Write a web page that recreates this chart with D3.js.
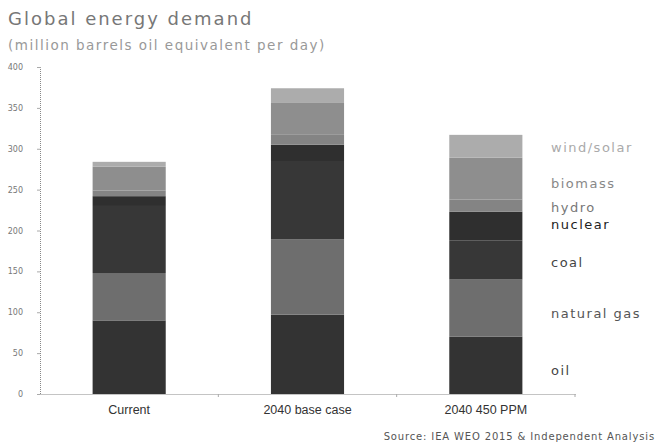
<!DOCTYPE html>
<html>
<head>
<meta charset="utf-8">
<script src="https://cdn.jsdelivr.net/npm/d3@7"></script>
<style>
  html, body { margin: 0; padding: 0; background: #fff; }
  svg { display: block; }
  text { font-family: "DejaVu Sans", "Liberation Sans", sans-serif; }
</style>
</head>
<body>
<svg id="chart" width="657" height="448"></svg>
<script>
// ---- data ----
const categories = ["Current", "2040 base case", "2040 450 PPM"];
const sources = ["oil", "natural gas", "coal", "nuclear", "hydro", "biomass", "wind/solar"];
const oil        = [90, 97, 70];
const naturalGas = [58, 92, 70];
const coal       = [82, 96, 48];
const nuclear    = [12, 20, 35];
const hydro      = [7, 12, 15];
const biomass    = [29, 39, 51];
const windSolar  = [6, 18, 28];
const yTicks = [0, 50, 100, 150, 200, 250, 300, 350, 400];
const title = "Global energy demand";
const subtitle = "(million barrels oil equivalent per day)";
const sourceNote = "Source:  IEA WEO 2015 & Independent  Analysis";

const seriesValues = [oil, naturalGas, coal, nuclear, hydro, biomass, windSolar];
const fills = ["#333333", "#6e6e6e", "#373737", "#2f2f2f", "#848484", "#8e8e8e", "#acacac"];
const labelColors = ["#444", "#555", "#444", "#222", "#777", "#888", "#aaa"];
const labelY = [29, 99, 161, 207, 228, 258, 301]; // value positions for legend labels

const rows = categories.map((c, i) => {
  const r = { category: c };
  sources.forEach((s, j) => r[s] = seriesValues[j][i]);
  return r;
});

const svg = d3.select("#chart");
const x = d3.scaleBand().domain(categories).range([40, 575]).paddingInner(0.59).paddingOuter(0.295);
const y = d3.scaleLinear().domain([0, 400]).range([394, 67]);

const stack = d3.stack().keys(sources)(rows);

// bars
svg.append("g").selectAll("g").data(stack).join("g")
  .attr("fill", (d, i) => fills[i])
  .selectAll("rect").data(d => d).join("rect")
  .attr("x", d => x(d.data.category))
  .attr("width", x.bandwidth())
  .attr("y", d => y(d[1]))
  .attr("height", d => y(d[0]) - y(d[1]));

// y axis
const yAxis = svg.append("g").attr("transform", "translate(40,0)")
  .call(d3.axisLeft(y).tickValues(yTicks).tickSize(3).tickPadding(14));
yAxis.select(".domain").attr("stroke", "#888").attr("stroke-dasharray", "1,1");
yAxis.selectAll(".tick line").attr("stroke", "#aaa");
yAxis.selectAll(".tick text").attr("fill", "#777").style("font-size", "8px");

// x axis
const xAxis = svg.append("g").attr("transform", "translate(0,394)")
  .call(d3.axisBottom(x).tickSize(0).tickPadding(11));
xAxis.select(".domain").attr("stroke", "#888").attr("stroke-dasharray", "1,1");
xAxis.selectAll(".tick text").attr("fill", "#333").style("font-size", "12.5px")
  .style("font-family", "'Liberation Sans', Arial, sans-serif");

// small ticks at band boundaries
const bounds = [x.step(), x.step() * 2, x.step() * 3].map(v => 40 + v);
svg.append("g").selectAll("line").data(bounds).join("line")
  .attr("x1", d => d).attr("x2", d => d)
  .attr("y1", 394).attr("y2", 397)
  .attr("stroke", "#aaa");

// legend labels
svg.append("g").selectAll("text").data(sources).join("text")
  .attr("x", 551)
  .attr("y", (d, i) => y(labelY[i]))
  .attr("dy", "0.35em")
  .attr("fill", (d, i) => labelColors[i])
  .style("font-size", "13px")
  .style("letter-spacing", "1.5px")
  .text(d => d);

// title
svg.append("text").attr("x", 8).attr("y", 25)
  .attr("fill", "#777").style("font-size", "18px").style("letter-spacing", "2px")
  .text(title);
svg.append("text").attr("x", 8).attr("y", 50)
  .attr("fill", "#999").style("font-size", "13.5px").style("letter-spacing", "1.5px")
  .text(subtitle);

// source
svg.append("text").attr("x", 655).attr("y", 440).attr("text-anchor", "end")
  .attr("fill", "#555").style("font-size", "10px").style("letter-spacing", "0.85px")
  .text(sourceNote);
</script>
</body>
</html>
